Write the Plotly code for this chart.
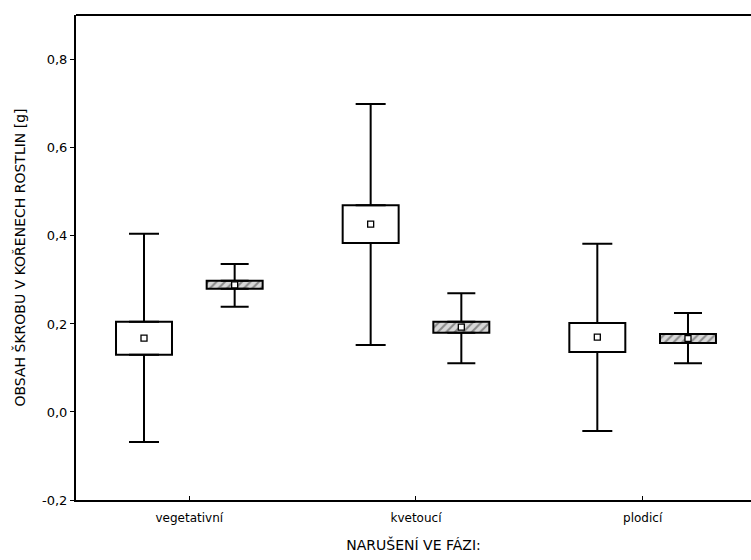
import plotly.graph_objects as go

categories = ["vegetativní", "kvetoucí", "plodicí"]

s1_mean = [0.168, 0.427, 0.170]
s1_box_low = [0.130, 0.384, 0.136]
s1_box_high = [0.205, 0.470, 0.202]
s1_wh_low = [-0.068, 0.152, -0.043]
s1_wh_high = [0.405, 0.700, 0.382]

s2_mean = [0.289, 0.193, 0.167]
s2_box_low = [0.280, 0.180, 0.157]
s2_box_high = [0.298, 0.205, 0.177]
s2_wh_low = [0.239, 0.111, 0.111]
s2_wh_high = [0.336, 0.270, 0.225]

y_ticks = [-0.2, 0.0, 0.2, 0.4, 0.6, 0.8]
y_ticktext = ["-0,2", "0,0", "0,2", "0,4", "0,6", "0,8"]

FONT = "DejaVu Sans"
fig = go.Figure()

def add_series(offset, mean, blo, bhi, wlo, whi, hatched, cap):
    xs = [i + offset for i in range(len(categories))]
    fig.add_trace(go.Scatter(
        x=xs, y=bhi, mode="markers", marker=dict(size=0.1, color="black"),
        error_y=dict(type="data", symmetric=False,
                     array=[h - b for h, b in zip(whi, bhi)],
                     arrayminus=[0] * len(xs), color="black",
                     thickness=2, width=cap),
        showlegend=False, hoverinfo="skip"))
    fig.add_trace(go.Scatter(
        x=xs, y=blo, mode="markers", marker=dict(size=0.1, color="black"),
        error_y=dict(type="data", symmetric=False,
                     array=[0] * len(xs),
                     arrayminus=[b - l for b, l in zip(blo, wlo)],
                     color="black", thickness=2, width=cap),
        showlegend=False, hoverinfo="skip"))
    marker = dict(color="white", line=dict(color="black", width=2))
    if hatched:
        marker["pattern"] = dict(shape="/", fgcolor="#3a3a3a", bgcolor="#d8d8d8",
                                 size=6, solidity=0.35)
    fig.add_trace(go.Bar(
        x=xs, y=[h - l for h, l in zip(bhi, blo)], base=blo, width=0.247,
        marker=marker, showlegend=False, hoverinfo="skip"))
    fig.add_trace(go.Scatter(
        x=xs, y=mean, mode="markers",
        marker=dict(symbol="square", size=6, color="white",
                    line=dict(color="black", width=1.3)),
        showlegend=False))

add_series(-0.2, s1_mean, s1_box_low, s1_box_high, s1_wh_low, s1_wh_high, False, 15)
add_series(0.2, s2_mean, s2_box_low, s2_box_high, s2_wh_low, s2_wh_high, True, 14)

# top frame line (plot border)
fig.add_shape(type="line", xref="paper", yref="paper", x0=0, x1=1, y0=1, y1=1,
              line=dict(color="black", width=2))

fig.update_layout(
    width=751, height=560,
    margin=dict(l=76, r=0, t=15, b=60),
    paper_bgcolor="white", plot_bgcolor="white",
    barmode="overlay",
    font=dict(family=FONT, color="black"),
    xaxis=dict(
        range=[-0.5, 2.478], tickvals=[0, 1, 2], ticktext=categories,
        showgrid=False, zeroline=False,
        showline=True, linecolor="black", linewidth=2, mirror=False,
        ticks="inside", ticklen=4, tickcolor="black",
        tickfont=dict(family=FONT, size=12), ticklabelstandoff=6,
        title=dict(text="NARUŠENÍ VE FÁZI:", font=dict(family=FONT, size=14),
                   standoff=16),
    ),
    yaxis=dict(
        range=[-0.2, 0.902], tickvals=y_ticks, ticktext=y_ticktext,
        showgrid=False, zeroline=False,
        showline=True, linecolor="black", linewidth=2, mirror=False,
        ticks="outside", ticklen=4, tickcolor="black",
        tickfont=dict(family=FONT, size=13),
        title=dict(text="OBSAH ŠKROBU V KOŘENECH ROSTLIN [g]",
                   font=dict(family=FONT, size=14), standoff=13),
    ),
)

fig.write_html("out.html")
